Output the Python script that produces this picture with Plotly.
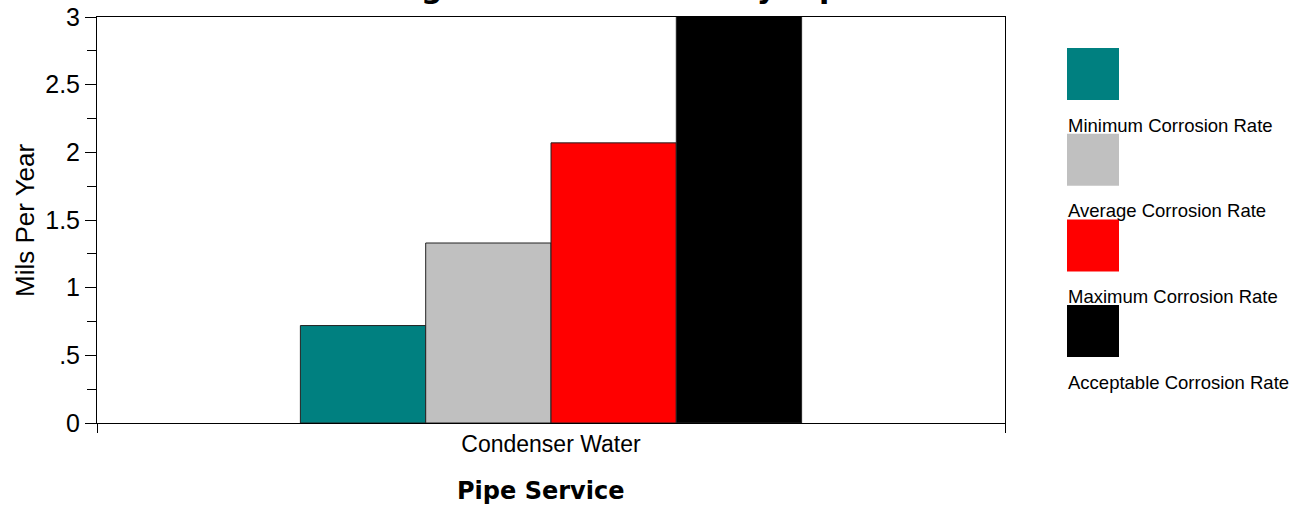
import plotly.graph_objects as go

# ---- data ----
categories = ["Condenser Water"]
series_names = ["Minimum Corrosion Rate", "Average Corrosion Rate",
                "Maximum Corrosion Rate", "Acceptable Corrosion Rate"]
series_values = [[0.72], [1.33], [2.07], [5.0]]
series_colors = ["#008080", "#C0C0C0", "#FF0000", "#000000"]
y_tickvals = [0, 0.5, 1, 1.5, 2, 2.5, 3]
y_ticktext = ["0", ".5", "1", "1.5", "2", "2.5", "3"]
title_text = "Average Corrosion Rate by Pipe Service"

FONT = "Arial, Liberation Sans, sans-serif"
BOLD = "DejaVu Sans, Arial Black, sans-serif"

W, H = 1302, 508
PLOT_L, PLOT_R, PLOT_T, PLOT_B = 97, 1005, 17, 423   # pixels
L, T = PLOT_L, PLOT_T
R = W - PLOT_R
B = H - PLOT_B
PW, PH = PLOT_R - PLOT_L, PLOT_B - PLOT_T

def px(x):
    return (x - PLOT_L) / PW

def py(y):
    return (PLOT_B - y) / PH

fig = go.Figure()
for name, vals, col in zip(series_names, series_values, series_colors):
    fig.add_trace(go.Bar(
        x=categories, y=vals, name=name,
        marker=dict(color=col, line=dict(color="#222222", width=1)),
        showlegend=False,
    ))

fig.update_layout(
    width=W, height=H,
    margin=dict(l=L, r=R, t=T, b=B, autoexpand=False),
    paper_bgcolor="white", plot_bgcolor="white",
    barmode="group", bargap=0.448, bargroupgap=0,
    font=dict(family=FONT, color="black"),
    xaxis=dict(
        automargin=False,
        showline=True, linecolor="black", linewidth=1, mirror=True,
        ticks="outside", ticklen=9, tickcolor="black", tickson="boundaries",
        tickfont=dict(size=23, family=FONT), showgrid=False, zeroline=False,
    ),
    yaxis=dict(
        automargin=False,
        range=[0, 3], showline=True, linecolor="black", linewidth=1, mirror=True,
        tickvals=y_tickvals, ticktext=y_ticktext,
        ticks="outside", ticklen=11, tickcolor="black",
        minor=dict(dtick=0.25, ticks="outside", ticklen=9, tickcolor="black", showgrid=False),
        tickfont=dict(size=25, family=FONT), showgrid=False, zeroline=False,
    ),
    yaxis2=dict(
        automargin=False,
        range=[0, 3], overlaying="y", side="left", anchor="x",
        tickvals=y_tickvals, showticklabels=False,
        ticks="inside", ticklen=10, tickcolor="black",
        minor=dict(dtick=0.25, ticks="inside", ticklen=10, tickcolor="black", showgrid=False),
        showgrid=False, zeroline=False, showline=False,
    ),
)

annotations = []
shapes = []
# y-axis title
annotations.append(dict(text="Mils Per Year", xref="paper", yref="paper",
                        x=px(25), y=py(220), textangle=-90, showarrow=False,
                        xanchor="center", yanchor="middle",
                        font=dict(size=26, family=FONT)))
# x-axis title
annotations.append(dict(text="<b>Pipe Service</b>", xref="paper", yref="paper",
                        x=px(540), y=py(491), showarrow=False,
                        xanchor="center", yanchor="middle",
                        font=dict(size=24, family=BOLD)))
# title (cut off at the top edge, as in the original)
annotations.append(dict(text="<b>" + title_text + "</b>", xref="paper", yref="paper",
                        x=px(660), y=py(7), showarrow=False,
                        xanchor="center", yanchor="bottom",
                        font=dict(size=30, family=BOLD)))
# custom legend: swatch above label
for i, (name, col) in enumerate(zip(series_names, series_colors)):
    top = 48 + i * 85.7
    shapes.append(dict(type="rect", xref="paper", yref="paper",
                       x0=px(1067), x1=px(1119), y0=py(top + 52), y1=py(top),
                       fillcolor=col, line=dict(width=0)))
    annotations.append(dict(text=name, xref="paper", yref="paper",
                            x=px(1066), y=py(top + 77), showarrow=False,
                            xanchor="left", yanchor="middle",
                            font=dict(size=18.5, family=FONT)))

fig.update_layout(annotations=annotations, shapes=shapes)
fig.write_html("out.html", config={"displayModeBar": False},
               post_script="document.body.style.margin='0';")
